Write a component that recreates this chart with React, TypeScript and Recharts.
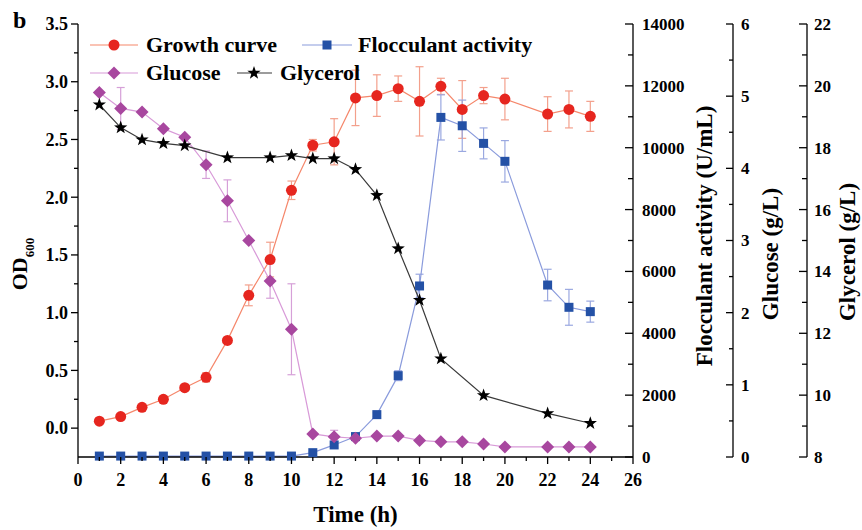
import React from 'react';
import { LineChart, Line, XAxis, YAxis, ErrorBar, Legend } from 'recharts';

// sampling times (h)
const times = [1, 2, 3, 4, 5, 6, 7, 8, 9, 10, 11, 12, 13, 14, 15, 16, 17, 18, 19, 20, 22, 23, 24];

// OD600
const growth = [0.06, 0.1, 0.18, 0.25, 0.35, 0.44, 0.76, 1.15, 1.46, 2.06, 2.45, 2.48, 2.86, 2.88, 2.94, 2.83, 2.96, 2.76, 2.88, 2.85, 2.72, 2.76, 2.7];
const growthErr = [0, 0, 0, 0, 0, 0.04, 0.02, 0.09, 0.15, 0.08, 0.05, 0.2, 0.24, 0.18, 0.11, 0.3, 0.07, 0.25, 0.07, 0.18, 0.15, 0.16, 0.13];

// flocculant activity (U/mL)
const flocculant = [30, 30, 30, 30, 30, 30, 30, 30, 30, 30, 140, 390, 660, 1370, 2630, 5530, 10980, 10710, 10140, 9560, 5560, 4840, 4700];
const flocculantErr = [0, 0, 0, 0, 0, 0, 0, 0, 0, 0, 30, 100, 80, 60, 160, 380, 730, 830, 500, 670, 510, 580, 340];

// glucose (g/L)
const glucose = [5.05, 4.83, 4.78, 4.55, 4.43, 4.05, 3.55, 3.0, 2.44, 1.77, 0.32, 0.28, 0.26, 0.29, 0.29, 0.23, 0.21, 0.21, 0.18, 0.14, 0.14, 0.14, 0.14];
const glucoseErr = [0, 0.29, 0, 0, 0, 0.19, 0.29, 0, 0.24, 0.63, 0, 0.09, 0, 0, 0, 0, 0, 0, 0, 0, 0, 0, 0];

// glycerol (g/L), not measured at every time point
const glycerol = [19.39, 18.65, 18.26, 18.14, 18.07, null, 17.68, null, 17.68, 17.75, 17.65, 17.65, 17.3, 16.46, 14.74, 13.07, 11.18, null, 9.99, null, 9.41, null, 9.09];

// axis ticks (major + minor)
const xTicks = [0, 1, 2, 3, 4, 5, 6, 7, 8, 9, 10, 11, 12, 13, 14, 15, 16, 17, 18, 19, 20, 21, 22, 23, 24, 25, 26];
const odTicks = [0, 0.25, 0.5, 0.75, 1, 1.25, 1.5, 1.75, 2, 2.25, 2.5, 2.75, 3, 3.25, 3.5];
const flocTicks = [0, 1000, 2000, 3000, 4000, 5000, 6000, 7000, 8000, 9000, 10000, 11000, 12000, 13000, 14000];
const gluTicks = [0, 0.5, 1, 1.5, 2, 2.5, 3, 3.5, 4, 4.5, 5, 5.5, 6];
const glyTicks = [8, 9, 10, 11, 12, 13, 14, 15, 16, 17, 18, 19, 20, 21, 22];

const legendNames = ['Growth curve', 'Flocculant activity', 'Glucose', 'Glycerol'];

const data = times.map((t, i) => ({
  time: t,
  growth: growth[i],
  growthErr: growthErr[i],
  flocculant: flocculant[i],
  flocculantErr: flocculantErr[i],
  glucose: glucose[i],
  glucoseErr: glucoseErr[i],
  glycerol: glycerol[i],
}));

const FONT = '"Liberation Serif", "Times New Roman", serif';

const isMajor = (v: number, step: number) => Math.abs(v / step - Math.round(v / step)) < 1e-6;

const LeftTick = (p: any) => {
  const { x, y, payload } = p;
  const major = isMajor(payload.value, 0.5);
  return (
    <g>
      <line x1={x - (major ? 7 : 4)} x2={x} y1={y} y2={y} stroke="#000" strokeWidth={1.3} />
      {major && (
        <text x={x - 10} y={y} dy="0.35em" textAnchor="end" fontFamily={FONT} fontWeight="bold" fontSize={18} fill="#000">
          {payload.value.toFixed(1)}
        </text>
      )}
    </g>
  );
};

const makeRightTick = (step: number, len: number, gap: number) => (p: any) => {
  const { x, y, payload } = p;
  const major = isMajor(payload.value, step);
  return (
    <g>
      <line x1={x - (major ? len : len - 3)} x2={x} y1={y} y2={y} stroke="#000" strokeWidth={1.3} />
      {major && (
        <text x={x + gap} y={y} dy="0.35em" textAnchor="start" fontFamily={FONT} fontWeight="bold" fontSize={17} fill="#000">
          {payload.value}
        </text>
      )}
    </g>
  );
};

const BottomTick = (p: any) => {
  const { x, y, payload } = p;
  const major = isMajor(payload.value, 2);
  return (
    <g>
      <line x1={x} x2={x} y1={y} y2={y + (major ? 7 : 4)} stroke="#000" strokeWidth={1.3} />
      {major && (
        <text x={x} y={y + 29} textAnchor="middle" fontFamily={FONT} fontWeight="bold" fontSize={18} fill="#000">
          {payload.value}
        </text>
      )}
    </g>
  );
};

// markers
const Circle = (p: any) => {
  if (p.cy == null) return <g key={p.index} />;
  return <circle key={p.index} cx={p.cx} cy={p.cy} r={5.5} fill="#e6261f" />;
};
const Square = (p: any) => {
  if (p.cy == null) return <g key={p.index} />;
  return <rect key={p.index} x={p.cx - 4.5} y={p.cy - 4.5} width={9} height={9} fill="#2451a6" />;
};
const Diamond = (p: any) => {
  if (p.cy == null) return <g key={p.index} />;
  const { cx, cy } = p;
  const r = 6.5;
  return <polygon key={p.index} points={`${cx},${cy - r} ${cx + r},${cy} ${cx},${cy + r} ${cx - r},${cy}`} fill="#a8479f" />;
};
const starPoints = (cx: number, cy: number, ro: number, ri: number) => {
  const pts: string[] = [];
  for (let k = 0; k < 10; k++) {
    const r = k % 2 === 0 ? ro : ri;
    const a = -Math.PI / 2 + (k * Math.PI) / 5;
    pts.push(`${cx + r * Math.cos(a)},${cy + r * Math.sin(a)}`);
  }
  return pts.join(' ');
};
const Star = (p: any) => {
  if (p.cy == null) return <g key={p.index} />;
  return <polygon key={p.index} points={starPoints(p.cx, p.cy, 7, 2.8)} fill="#000" />;
};

const renderLegend = () => {
  const txt = { fontFamily: FONT, fontWeight: 'bold' as const, fontSize: 22, fill: '#000' };
  return (
    <svg width={470} height={60}>
      <line x1={4} x2={52} y1={15} y2={15} stroke="#f5876b" strokeWidth={1.2} />
      <circle cx={28} cy={15} r={5.5} fill="#e6261f" />
      <text x={60} y={22} {...txt}>{legendNames[0]}</text>

      <line x1={216} x2={266} y1={15} y2={15} stroke="#8a9bdc" strokeWidth={1.2} />
      <rect x={236.5} y={10.5} width={9} height={9} fill="#2451a6" />
      <text x={272} y={22} {...txt}>{legendNames[1]}</text>

      <line x1={4} x2={52} y1={43} y2={43} stroke="#d89ad8" strokeWidth={1.2} />
      <polygon points="28,36.5 34.5,43 28,49.5 21.5,43" fill="#a8479f" />
      <text x={60} y={50} {...txt}>{legendNames[2]}</text>

      <line x1={151} x2={186} y1={43} y2={43} stroke="#3a3a3a" strokeWidth={1.2} />
      <polygon points={starPoints(168, 43, 7, 2.8)} fill="#000" />
      <text x={194} y={50} {...txt}>{legendNames[3]}</text>
    </svg>
  );
};

const titleStyle = { fontFamily: FONT, fontWeight: 'bold' as const, fontSize: 23, fill: '#000' };

// rotated axis title; dx = baseline offset from the axis line, cy = vertical centre
const vTitle = (text: string, dx: number, cy: number) => (props: any) => {
  const vb = props.viewBox;
  const cx = vb.x + dx;
  return (
    <text transform={`translate(${cx},${cy}) rotate(-90)`} textAnchor="middle" {...titleStyle}>
      {text}
    </text>
  );
};

const odTitle = () => (
  <text transform="translate(27,264) rotate(-90)" textAnchor="middle" {...titleStyle} fontSize={22}>
    OD<tspan fontSize={13} dy={7}>600</tspan>
  </text>
);

const xTitle = (props: any) => {
  const vb = props.viewBox;
  return (
    <text x={vb.x + vb.width / 2} y={522} textAnchor="middle" {...titleStyle}>
      Time (h)
    </text>
  );
};

export default function App() {
  return (
    <div style={{ position: 'absolute', left: 0, top: 0, width: 862, height: 530, background: '#fff' }}>
      <LineChart width={862} height={530} data={data} margin={{ top: 24, right: 0, bottom: 0, left: 0 }}>
        <XAxis
          dataKey="time"
          type="number"
          domain={[0, 26]}
          ticks={xTicks}
          interval={0}
          height={73}
          tickSize={0}
          tickMargin={0}
          tickLine={false}
          axisLine={{ stroke: '#000', strokeWidth: 1.3 }}
          tick={BottomTick}
          label={{ content: xTitle }}
        />
        <XAxis xAxisId="top" orientation="top" type="number" domain={[0, 26]} height={0} tick={false} tickLine={false} axisLine={{ stroke: '#000', strokeWidth: 1.3 }} />
        <YAxis
          yAxisId="od"
          orientation="left"
          width={78}
          domain={[-0.25, 3.5]}
          ticks={odTicks}
          interval={0}
          tickSize={0}
          tickMargin={0}
          tickLine={false}
          axisLine={{ stroke: '#000', strokeWidth: 1.3 }}
          tick={LeftTick}
          label={{ content: odTitle }}
        />
        <YAxis
          yAxisId="floc"
          orientation="right"
          width={100}
          domain={[0, 14000]}
          ticks={flocTicks}
          interval={0}
          tickSize={0}
          tickMargin={0}
          tickLine={false}
          axisLine={{ stroke: '#000', strokeWidth: 1.3 }}
          tick={makeRightTick(2000, 8, 9)}
          label={{ content: vTitle('Flocculant activity (U/mL)', 79, 236) }}
        />
        <YAxis
          yAxisId="glu"
          orientation="right"
          width={74}
          domain={[0, 6]}
          ticks={gluTicks}
          interval={0}
          tickSize={0}
          tickMargin={0}
          tickLine={false}
          axisLine={{ stroke: '#000', strokeWidth: 1.3 }}
          tick={makeRightTick(1, 7, 8)}
          label={{ content: vTitle('Glucose (g/L)', 45, 254) }}
        />
        <YAxis
          yAxisId="gly"
          orientation="right"
          width={55}
          domain={[8, 22]}
          ticks={glyTicks}
          interval={0}
          tickSize={0}
          tickMargin={0}
          tickLine={false}
          axisLine={{ stroke: '#000', strokeWidth: 1.3 }}
          tick={makeRightTick(2, 8, 7)}
          label={{ content: vTitle('Glycerol (g/L)', 48, 252) }}
        />
        <Legend verticalAlign="middle" align="center" content={renderLegend} wrapperStyle={{ left: 86, top: 30, width: 470, height: 60 }} />
        <Line yAxisId="od" dataKey="growth" stroke="#f5876b" strokeWidth={1.2} dot={Circle} activeDot={false} isAnimationActive={false}>
          <ErrorBar dataKey="growthErr" direction="y" width={4} stroke="#f3a08c" strokeWidth={1.2} />
        </Line>
        <Line yAxisId="floc" dataKey="flocculant" stroke="#8a9bdc" strokeWidth={1.2} dot={Square} activeDot={false} isAnimationActive={false}>
          <ErrorBar dataKey="flocculantErr" direction="y" width={4} stroke="#9aa8e0" strokeWidth={1.2} />
        </Line>
        <Line yAxisId="glu" dataKey="glucose" stroke="#d89ad8" strokeWidth={1.2} dot={Diamond} activeDot={false} isAnimationActive={false}>
          <ErrorBar dataKey="glucoseErr" direction="y" width={4} stroke="#d6a0d8" strokeWidth={1.2} />
        </Line>
        <Line yAxisId="gly" dataKey="glycerol" stroke="#3a3a3a" strokeWidth={1.2} dot={Star} activeDot={false} connectNulls isAnimationActive={false} />
      </LineChart>
      <div style={{ position: 'absolute', left: 13, top: 5, fontFamily: FONT, fontWeight: 'bold', fontSize: 24, lineHeight: '30px' }}>b</div>
    </div>
  );
}
